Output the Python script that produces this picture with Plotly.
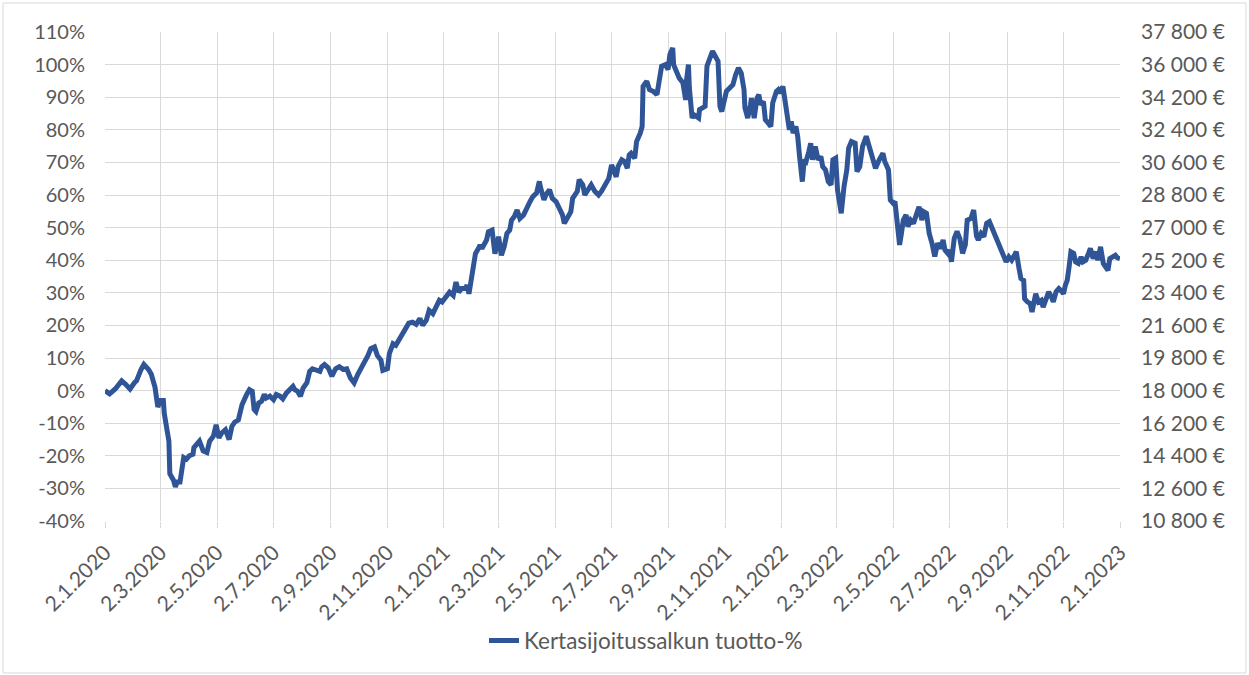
import plotly.graph_objects as go

# Päivämäärät ja salkun tuotto-% (luettu kuvaajasta)
paivat = [
    "2020-01-02", "2020-01-07", "2020-01-13", "2020-01-20", "2020-01-24", "2020-01-29",
    "2020-02-03", "2020-02-05", "2020-02-10", "2020-02-13", "2020-02-18", "2020-02-21",
    "2020-02-25", "2020-02-27", "2020-02-28", "2020-03-02", "2020-03-05", "2020-03-06",
    "2020-03-09", "2020-03-11", "2020-03-12", "2020-03-16", "2020-03-18", "2020-03-20",
    "2020-03-23", "2020-03-25", "2020-03-27", "2020-03-30", "2020-04-02", "2020-04-06",
    "2020-04-07", "2020-04-13", "2020-04-17", "2020-04-21", "2020-04-24", "2020-04-28",
    "2020-05-01", "2020-05-04", "2020-05-07", "2020-05-11", "2020-05-15", "2020-05-18",
    "2020-05-21", "2020-05-25", "2020-05-28", "2020-05-29", "2020-06-03", "2020-06-06",
    "2020-06-09", "2020-06-11", "2020-06-13", "2020-06-16", "2020-06-19", "2020-06-22",
    "2020-06-24", "2020-06-28", "2020-07-02", "2020-07-05", "2020-07-09", "2020-07-12",
    "2020-07-16", "2020-07-19", "2020-07-23", "2020-07-25", "2020-07-28", "2020-07-31",
    "2020-08-03", "2020-08-07", "2020-08-10", "2020-08-13", "2020-08-16", "2020-08-21",
    "2020-08-23", "2020-08-26", "2020-08-30", "2020-09-03", "2020-09-07", "2020-09-11",
    "2020-09-15", "2020-09-19", "2020-09-23", "2020-09-27", "2020-10-01", "2020-10-07",
    "2020-10-12", "2020-10-15", "2020-10-19", "2020-10-22", "2020-10-26", "2020-10-28",
    "2020-11-02", "2020-11-04", "2020-11-08", "2020-11-11", "2020-11-15", "2020-11-18",
    "2020-11-22", "2020-11-25", "2020-11-29", "2020-12-03", "2020-12-07", "2020-12-10",
    "2020-12-14", "2020-12-17", "2020-12-21", "2020-12-24", "2020-12-28", "2020-12-31",
    "2021-01-04", "2021-01-08", "2021-01-12", "2021-01-15", "2021-01-18", "2021-01-21",
    "2021-01-25", "2021-01-27", "2021-01-29", "2021-02-01", "2021-02-03", "2021-02-05",
    "2021-02-08", "2021-02-10", "2021-02-12", "2021-02-17", "2021-02-19", "2021-02-23",
    "2021-02-26", "2021-02-28", "2021-03-02", "2021-03-05", "2021-03-08", "2021-03-11",
    "2021-03-14", "2021-03-16", "2021-03-19", "2021-03-22", "2021-03-25", "2021-03-29",
    "2021-04-01", "2021-04-05", "2021-04-08", "2021-04-12", "2021-04-15", "2021-04-16",
    "2021-04-20", "2021-04-22", "2021-04-26", "2021-04-29", "2021-05-03", "2021-05-06",
    "2021-05-10", "2021-05-12", "2021-05-14", "2021-05-19", "2021-05-21", "2021-05-26",
    "2021-05-28", "2021-06-01", "2021-06-03", "2021-06-07", "2021-06-10", "2021-06-14",
    "2021-06-18", "2021-06-21", "2021-06-23", "2021-06-25", "2021-06-29", "2021-07-02",
    "2021-07-07", "2021-07-09", "2021-07-13", "2021-07-16", "2021-07-19", "2021-07-21",
    "2021-07-23", "2021-07-27", "2021-07-29", "2021-08-02", "2021-08-04", "2021-08-05",
    "2021-08-09", "2021-08-12", "2021-08-16", "2021-08-20", "2021-08-23", "2021-08-25",
    "2021-08-29", "2021-09-01", "2021-09-03", "2021-09-06", "2021-09-07", "2021-09-10",
    "2021-09-13", "2021-09-17", "2021-09-20", "2021-09-21", "2021-09-23", "2021-09-24",
    "2021-09-27", "2021-09-29", "2021-10-04", "2021-10-05", "2021-10-08", "2021-10-11",
    "2021-10-13", "2021-10-15", "2021-10-19", "2021-10-21", "2021-10-25", "2021-10-27",
    "2021-10-29", "2021-11-03", "2021-11-05", "2021-11-10", "2021-11-13", "2021-11-16",
    "2021-11-19", "2021-11-22", "2021-11-23", "2021-11-26", "2021-11-29", "2021-11-30",
    "2021-12-03", "2021-12-06", "2021-12-08", "2021-12-10", "2021-12-13", "2021-12-15",
    "2021-12-18", "2021-12-21", "2021-12-23", "2021-12-27", "2021-12-29", "2021-12-31",
    "2022-01-03", "2022-01-05", "2022-01-07", "2022-01-10", "2022-01-12", "2022-01-14",
    "2022-01-17", "2022-01-19", "2022-01-21", "2022-01-24", "2022-01-26", "2022-01-28",
    "2022-01-31", "2022-02-02", "2022-02-04", "2022-02-07", "2022-02-10", "2022-02-13",
    "2022-02-15", "2022-02-18", "2022-02-21", "2022-02-24", "2022-02-26", "2022-03-01",
    "2022-03-03", "2022-03-06", "2022-03-07", "2022-03-10", "2022-03-13", "2022-03-15",
    "2022-03-18", "2022-03-22", "2022-03-24", "2022-03-27", "2022-03-30", "2022-04-03",
    "2022-04-06", "2022-04-09", "2022-04-11", "2022-04-13", "2022-04-17", "2022-04-21",
    "2022-04-23", "2022-04-26", "2022-04-27", "2022-04-29", "2022-05-02", "2022-05-04",
    "2022-05-06", "2022-05-09", "2022-05-11", "2022-05-13", "2022-05-16", "2022-05-18",
    "2022-05-21", "2022-05-24", "2022-05-27", "2022-05-30", "2022-06-02", "2022-06-04",
    "2022-06-07", "2022-06-10", "2022-06-13", "2022-06-16", "2022-06-19", "2022-06-22",
    "2022-06-25", "2022-06-27", "2022-06-30", "2022-07-02", "2022-07-04", "2022-07-07",
    "2022-07-10", "2022-07-13", "2022-07-16", "2022-07-19", "2022-07-21", "2022-07-25",
    "2022-07-28", "2022-07-31", "2022-08-02", "2022-08-05", "2022-08-08", "2022-08-11",
    "2022-08-14", "2022-08-17", "2022-08-20", "2022-08-23", "2022-08-27", "2022-08-30",
    "2022-09-01", "2022-09-04", "2022-09-07", "2022-09-10", "2022-09-12", "2022-09-15",
    "2022-09-17", "2022-09-20", "2022-09-21", "2022-09-24", "2022-09-27", "2022-09-29",
    "2022-10-01", "2022-10-03", "2022-10-06", "2022-10-09", "2022-10-11", "2022-10-14",
    "2022-10-17", "2022-10-20", "2022-10-22", "2022-10-25", "2022-10-28", "2022-10-30",
    "2022-11-02", "2022-11-04", "2022-11-06", "2022-11-08", "2022-11-10", "2022-11-13",
    "2022-11-15", "2022-11-18", "2022-11-21", "2022-11-23", "2022-11-26", "2022-11-29",
    "2022-12-01", "2022-12-04", "2022-12-07", "2022-12-09", "2022-12-12", "2022-12-15",
    "2022-12-17", "2022-12-20", "2022-12-22", "2022-12-25", "2022-12-28", "2022-12-30",
    "2023-01-02",
]

tuotto_pct = [
    0.0, -1.0, 0.5, 3.0, 2.0, 0.5,
    2.5, 3.0, 6.5, 8.0, 6.5, 5.0,
    1.0, -2.0, -5.0, -3.0, -3.0, -7.0,
    -11.5, -15.5, -25.5, -27.5, -29.5, -28.0,
    -28.0, -22.5, -20.5, -21.0, -20.0, -19.5,
    -17.5, -15.5, -18.5, -19.0, -15.5, -14.0,
    -10.5, -14.5, -13.0, -12.0, -15.0, -11.0,
    -9.7, -9.0, -5.3, -4.3, -1.2, 0.3,
    -0.2, -5.8, -6.4, -3.8, -3.3, -1.2,
    -2.3, -1.7, -2.8, -1.2, -1.7, -2.5,
    -0.7, 0.3, 1.3, 0.3, -0.2, -1.7,
    0.8, 2.4, 5.9, 6.7, 6.5, 5.9,
    7.3, 8.0, 7.0, 4.4, 6.7, 7.3,
    6.5, 6.7, 3.9, 2.4, 5.0, 7.8,
    10.8, 12.9, 13.4, 10.8, 9.3, 6.2,
    6.7, 11.3, 14.4, 13.9, 15.9, 17.5,
    19.0, 20.7, 21.0, 20.3, 22.1, 20.0,
    21.6, 24.6, 23.6, 25.1, 27.7, 27.2,
    28.7, 30.2, 29.2, 33.3, 30.2, 31.3,
    31.3, 32.3, 29.7, 35.4, 37.9, 42.0,
    43.5, 44.6, 43.6, 46.2, 48.7, 49.2,
    42.0, 44.6, 47.2, 41.5, 44.1, 48.2,
    49.2, 52.3, 53.4, 55.4, 52.8, 53.9,
    55.9, 58.0, 59.5, 60.6, 64.2, 62.6,
    58.5, 60.0, 61.6, 59.0, 58.0, 56.4,
    53.9, 51.3, 52.3, 54.9, 59.0, 61.1,
    64.7, 63.1, 60.0, 61.6, 63.1, 61.1,
    60.0, 61.1, 62.1, 62.6, 65.1, 69.2,
    65.6, 68.7, 70.8, 70.3, 68.2, 72.3,
    72.8, 71.3, 76.4, 79.0, 81.0, 93.3,
    94.9, 92.3, 91.8, 90.8, 95.4, 99.5,
    100.0, 98.5, 103.1, 105.1, 100.0, 97.9,
    95.9, 94.4, 89.2, 95.4, 100.0, 92.8,
    83.6, 84.6, 83.6, 86.2, 86.7, 87.2,
    99.5, 101.0, 104.1, 103.1, 101.0, 87.2,
    85.6, 91.8, 92.3, 93.8, 96.9, 99.0,
    97.4, 92.3, 86.7, 83.6, 87.7, 89.7,
    83.6, 89.7, 90.8, 87.7, 88.7, 83.1,
    82.1, 81.0, 88.2, 91.8, 92.3, 91.3,
    93.3, 89.7, 84.1, 80.0, 82.6, 79.0,
    81.0, 77.9, 71.8, 64.1, 70.8, 70.3,
    73.3, 75.9, 70.8, 74.9, 70.8, 71.8,
    68.7, 67.7, 64.1, 63.1, 70.8, 71.3,
    61.5, 55.9, 54.4, 62.6, 67.7, 74.4,
    76.4, 75.9, 67.2, 68.7, 74.9, 78.0,
    74.9, 72.8, 70.8, 68.2, 70.8, 72.8,
    70.3, 67.7, 67.7, 58.5, 57.5, 58.0,
    51.3, 44.7, 48.2, 52.3, 53.9, 50.3,
    52.3, 51.3, 53.9, 56.4, 52.3, 54.9,
    54.4, 48.2, 45.2, 41.1, 45.2, 43.6,
    46.2, 43.1, 42.1, 43.1, 39.5, 46.7,
    48.8, 46.7, 42.1, 44.7, 52.3, 52.8,
    55.4, 47.5, 46.2, 48.2, 47.2, 51.3,
    51.8, 49.7, 47.7, 45.6, 43.1, 41.5,
    39.5, 41.0, 40.0, 41.5, 42.6, 37.4,
    34.4, 33.8, 28.2, 27.2, 26.7, 24.1,
    26.7, 29.7, 27.2, 27.7, 25.6, 27.7,
    30.3, 28.7, 27.2, 30.3, 31.3, 30.8,
    29.7, 32.3, 33.8, 37.9, 42.6, 42.1,
    39.5, 39.0, 41.0, 39.5, 40.0, 42.1,
    43.6, 40.5, 42.6, 40.0, 44.1, 39.0,
    38.0, 36.9, 40.5, 40.8, 41.5, 40.8,
    40.5,
]

# Aika-akselin jaot
x_tick_dates = [
    "2020-01-02", "2020-03-02", "2020-05-02", "2020-07-02", "2020-09-02", "2020-11-02",
    "2021-01-02", "2021-03-02", "2021-05-02", "2021-07-02", "2021-09-02", "2021-11-02",
    "2022-01-02", "2022-03-02", "2022-05-02", "2022-07-02", "2022-09-02", "2022-11-02",
    "2023-01-02",
]
x_tick_labels = [
    "2.1.2020", "2.3.2020", "2.5.2020", "2.7.2020", "2.9.2020", "2.11.2020",
    "2.1.2021", "2.3.2021", "2.5.2021", "2.7.2021", "2.9.2021", "2.11.2021",
    "2.1.2022", "2.3.2022", "2.5.2022", "2.7.2022", "2.9.2022", "2.11.2022",
    "2.1.2023",
]

# Vasen akseli: tuotto-%
y_left_ticks = [-40, -30, -20, -10, 0, 10, 20, 30, 40, 50, 60, 70, 80, 90, 100, 110]
y_left_labels = ["-40%", "-30%", "-20%", "-10%", "0%", "10%", "20%", "30%", "40%",
                 "50%", "60%", "70%", "80%", "90%", "100%", "110%"]

# Oikea akseli: salkun arvo euroina
y_right_ticks = [10800, 12600, 14400, 16200, 18000, 19800, 21600, 23400, 25200,
                 27000, 28800, 30600, 32400, 34200, 36000, 37800]
y_right_labels = ["10 800 €", "12 600 €", "14 400 €", "16 200 €", "18 000 €",
                  "19 800 €", "21 600 €", "23 400 €", "25 200 €", "27 000 €",
                  "28 800 €", "30 600 €", "32 400 €", "34 200 €", "36 000 €",
                  "37 800 €"]

LINE_BLUE = "#2F5597"
GRID = "#D9D9D9"
TEXT = "#595959"
FONT = "Lato"

fig = go.Figure()
fig.add_trace(go.Scatter(
    x=paivat,
    y=tuotto_pct,
    mode="lines",
    name="Kertasijoitussalkun tuotto-%",
    line=dict(color=LINE_BLUE, width=5),
    hoverinfo="skip",
))
# Tyhjä sarja euroakselia varten, jotta oikea akseli piirtyy
fig.add_trace(go.Scatter(
    x=[],
    y=[],
    yaxis="y2",
    mode="lines",
    showlegend=False,
    hoverinfo="skip",
))

fig.update_layout(
    width=1249,
    height=675,
    autosize=False,
    margin=dict(l=105, r=129, t=32, b=154),
    paper_bgcolor="white",
    plot_bgcolor="white",
    font=dict(family=FONT, size=20, color=TEXT),
    showlegend=True,
    legend=dict(
        orientation="h",
        x=0.3734,
        xanchor="left",
        y=-0.245,
        yanchor="middle",
        font=dict(family=FONT, size=22.5, color=TEXT),
        bgcolor="rgba(0,0,0,0)",
    ),
    xaxis=dict(
        type="date",
        range=["2020-01-02", "2023-01-02"],
        tickmode="array",
        tickvals=x_tick_dates,
        ticktext=x_tick_labels,
        tickangle=-45,
        tickfont=dict(family=FONT, size=21, color=TEXT),
        ticks="outside",
        ticklen=6,
        tickcolor=GRID,
        ticklabelstandoff=4,
        ticklabeloverflow="allow",
        showgrid=True,
        gridcolor=GRID,
        gridwidth=1.3,
        showline=False,
        zeroline=False,
    ),
    yaxis=dict(
        range=[-40, 110],
        tickmode="array",
        tickvals=y_left_ticks,
        ticktext=y_left_labels,
        tickfont=dict(family=FONT, size=20, color=TEXT),
        showgrid=True,
        gridcolor=GRID,
        gridwidth=1.3,
        zeroline=False,
        showline=False,
        ticks="",
        ticklabelstandoff=19,
        ticklabeloverflow="allow",
    ),
    yaxis2=dict(
        overlaying="y",
        side="right",
        anchor="x",
        range=[10800, 37800],
        tickmode="array",
        tickvals=y_right_ticks,
        ticktext=y_right_labels,
        tickfont=dict(family=FONT, size=21, color=TEXT),
        showgrid=False,
        zeroline=False,
        showline=False,
        showticklabels=True,
        ticks="",
        ticklabelstandoff=20,
        ticklabeloverflow="allow",
    ),
    shapes=[
        dict(
            type="rect",
            xref="paper", yref="paper",
            x0=-0.1005, x1=1.1241, y0=-0.3108, y1=1.0593,
            line=dict(color=GRID, width=1),
            fillcolor="rgba(0,0,0,0)",
            layer="below",
        )
    ],
)

fig.write_html("out.html")
